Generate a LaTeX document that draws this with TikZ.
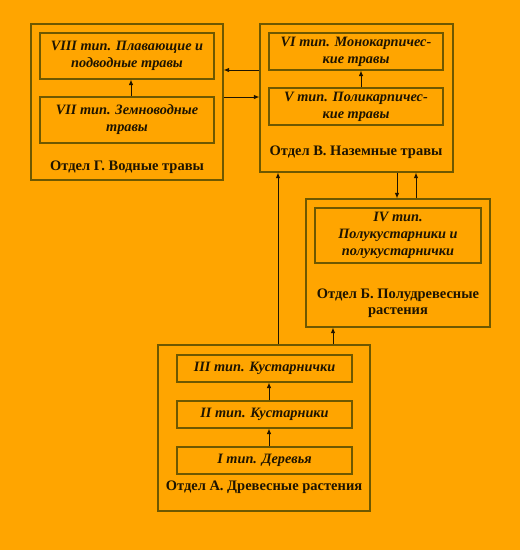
\documentclass[tikz,border=0pt]{standalone}
\usepackage{fontspec}
\setmainfont{Liberation Serif}
\usetikzlibrary{positioning,arrows.meta}
\definecolor{bgorange}{HTML}{FFA500}
\definecolor{boxline}{HTML}{6E5800}
\definecolor{txt}{HTML}{1E1400}
\tikzset{
  otdel/.style={draw=boxline,line width=1.2pt,rectangle,inner sep=0pt},
  tipbox/.style={draw=boxline,line width=1.1pt,rectangle,inner sep=0pt,minimum width=174pt,align=center,font=\bfseries\itshape\fontsize{14.3}{17}\selectfont,text=txt},
  otdellabel/.style={font=\bfseries\fontsize{14.5}{16}\selectfont,text=txt,align=center},
  link/.style={draw=txt,line width=0.9pt,-{Latex[length=5.5pt,width=4.5pt]}}
}
\begin{document}
\begin{tikzpicture}[x=1pt,y=-1pt]
        \fill[bgorange] (0,0) rectangle (520,550);
        \useasboundingbox (0,0) rectangle (520,550);
        % Отдел Г
        \node(otdelG)[otdel,minimum width=192pt,minimum height=156pt] at (127,102) {};
        \node(tipVIII)[tipbox,minimum height=46pt] at (127,56) {VIII тип. Плавающие и\\подводные травы};
        \node(tipVII)[tipbox,minimum height=46pt] at (127,120) {VII тип. Земноводные\\травы};
        \node(labelG)[otdellabel] at (127,167) {Отдел Г. Водные травы};
        % Отдел В
        \node(otdelV)[otdel,minimum width=193pt,minimum height=148pt] at (356.5,98) {};
        \node(tipVI)[tipbox,minimum height=37pt] at (356,51.5) {VI тип. Монокарпичес-\\кие травы};
        \node(tipV)[tipbox,minimum height=37pt] at (356,106.5) {V тип. Поликарпичес-\\кие травы};
        \node(labelV)[otdellabel] at (356,152) {Отдел В. Наземные травы};
        % Отдел Б
        \node(otdelB)[otdel,minimum width=184pt,minimum height=128pt] at (398,263) {};
        \node(tipIV)[tipbox,minimum width=166pt,minimum height=55pt] at (398,235.5) {IV тип.\\Полукустарники и\\полукустарнички};
        \node(labelB)[otdellabel] at (398,303) {Отдел Б. Полудревесные\\растения};
        % Отдел А
        \node(otdelA)[otdel,minimum width=212pt,minimum height=166pt] at (264,428) {};
        \node(tipIII)[tipbox,minimum width=175pt,minimum height=27pt] at (264.5,368.5) {III тип. Кустарнички};
        \node(tipII)[tipbox,minimum width=175pt,minimum height=27pt] at (264.5,414.5) {II тип. Кустарники};
        \node(tipI)[tipbox,minimum width=175pt,minimum height=27pt] at (264.5,460.5) {I тип. Деревья};
        \node(labelA)[otdellabel] at (264,487) {Отдел А. Древесные растения};
        % inner arrows
        \draw[link] ([xshift=4pt]tipVII.north) -- ([xshift=4pt]tipVIII.south);
        \draw[link] ([xshift=5pt]tipV.north) -- ([xshift=5pt]tipVI.south);
        \draw[link] ([xshift=4.5pt]tipI.north) -- ([xshift=4.5pt]tipII.south);
        \draw[link] ([xshift=4.5pt]tipII.north) -- ([xshift=4.5pt]tipIII.south);
        % links between groups
        \coordinate (rowA) at (0,70);
        \coordinate (rowB) at (0,97);
        \coordinate (colA) at (278,0);
        \coordinate (colB) at (333,0);
        \coordinate (colC) at (397,0);
        \coordinate (colD) at (416,0);
        \draw[link] (otdelV.west |- rowA) -- (otdelG.east |- rowA);
        \draw[link] (otdelG.east |- rowB) -- (otdelV.west |- rowB);
        \draw[link] (otdelA.north -| colA) -- (otdelV.south -| colA);
        \draw[link] (otdelA.north -| colB) -- (otdelB.south -| colB);
        \draw[link] (otdelV.south -| colC) -- (otdelB.north -| colC);
        \draw[link] (otdelB.north -| colD) -- (otdelV.south -| colD);
    \end{tikzpicture}
\end{document}
